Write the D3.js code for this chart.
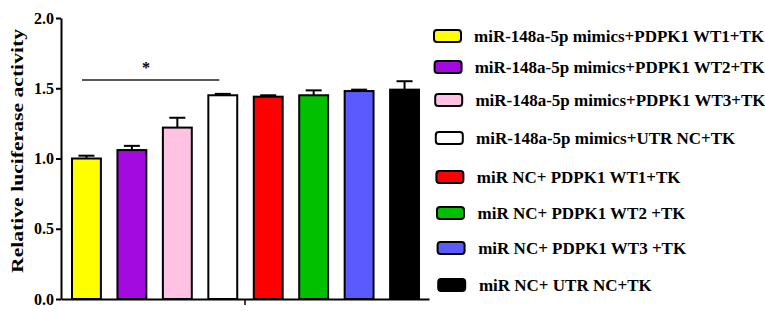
<!DOCTYPE html>
<html>
<head>
<meta charset="utf-8">
<script src="https://cdn.jsdelivr.net/npm/d3@7"></script>
<style>
  body { margin: 0; background: #fff; }
</style>
</head>
<body>
<svg id="chart" width="765" height="316"></svg>
<script>
// Data
const groups = [
  "miR-148a-5p mimics+PDPK1 WT1+TK",
  "miR-148a-5p mimics+PDPK1 WT2+TK",
  "miR-148a-5p mimics+PDPK1 WT3+TK",
  "miR-148a-5p mimics+UTR NC+TK",
  "miR NC+ PDPK1 WT1+TK",
  "miR NC+ PDPK1 WT2 +TK",
  "miR NC+ PDPK1 WT3 +TK",
  "miR NC+ UTR NC+TK"
];
const means = [1.00, 1.06, 1.22, 1.45, 1.44, 1.45, 1.48, 1.49];
const errors = [0.02, 0.03, 0.07, 0.01, 0.01, 0.035, 0.01, 0.06];
const colors = ["#ffff00", "#a20ae0", "#ffc2e2", "#ffffff", "#ff0000", "#00c000", "#5a5aff", "#000000"];
const yTicks = [0, 0.5, 1.0, 1.5, 2.0];

const FONT = "'Times New Roman', 'Liberation Serif', 'DejaVu Serif', serif";

const svg = d3.select("#chart");

// Scales
const y = d3.scaleLinear().domain([0, 2]).range([299, 18]);
const x = d3.scaleBand().domain(groups).range([71, 420]).paddingInner(0.32).paddingOuter(0);

// Y axis
const yAxis = svg.append("g")
  .attr("transform", "translate(61,0)")
  .call(d3.axisLeft(y).tickValues(yTicks).tickFormat(d3.format(".1f")).tickSize(5).tickSizeOuter(0));
yAxis.attr("font-family", null);
yAxis.select(".domain").attr("stroke", "#000").attr("stroke-width", 2);
yAxis.selectAll(".tick line").attr("stroke-width", 2);
yAxis.selectAll(".tick text")
  .attr("x", -7)
  .style("font-family", FONT)
  .style("font-weight", "bold")
  .style("font-size", "16px")
  .attr("fill", "#000");

// X axis (single group tick)
const xOuter = d3.scaleBand().domain([""]).range([61, 429]);
const xAxis = svg.append("g")
  .attr("transform", "translate(0,299)")
  .call(d3.axisBottom(xOuter).tickSize(6).tickSizeOuter(0));
xAxis.select(".domain").attr("stroke", "#000").attr("stroke-width", 2);
xAxis.selectAll(".tick line").attr("stroke-width", 1.5);

// Y label
svg.append("text")
  .attr("transform", "translate(23,151) rotate(-90)")
  .attr("text-anchor", "middle")
  .attr("textLength", 244)
  .attr("lengthAdjust", "spacingAndGlyphs")
  .style("font-family", FONT)
  .style("font-weight", "bold")
  .style("font-size", "17px")
  .text("Relative luciferase activity");

// Error bars (upper only)
const eb = svg.append("g");
groups.forEach((g, i) => {
  const cx = x(g) + x.bandwidth() / 2;
  eb.append("line")
    .attr("x1", cx).attr("x2", cx)
    .attr("y1", y(means[i])).attr("y2", y(means[i] + errors[i]))
    .attr("stroke", "#000").attr("stroke-width", 2);
  eb.append("line")
    .attr("x1", cx - 8).attr("x2", cx + 8)
    .attr("y1", y(means[i] + errors[i])).attr("y2", y(means[i] + errors[i]))
    .attr("stroke", "#000").attr("stroke-width", 2);
});

// Bars
svg.selectAll("rect.bar")
  .data(groups)
  .enter().append("rect")
    .attr("class", "bar")
    .attr("x", d => x(d) + 1)
    .attr("y", (d, i) => y(means[i]))
    .attr("width", x.bandwidth() - 2)
    .attr("height", (d, i) => y(0) - y(means[i]))
    .attr("fill", (d, i) => colors[i])
    .attr("stroke", "#000")
    .attr("stroke-width", 2);

// Significance line + star
svg.append("line")
  .attr("x1", x(groups[0]) + 11).attr("x2", x(groups[3]) + 12)
  .attr("y1", 80).attr("y2", 80)
  .attr("stroke", "#222").attr("stroke-width", 1.5);
svg.append("text")
  .attr("x", 146).attr("y", 73)
  .attr("text-anchor", "middle")
  .style("font-family", FONT)
  .style("font-weight", "bold")
  .style("font-size", "16px")
  .text("*");

// Legend
const legendY = [36, 67, 100, 138, 177, 213, 248, 285];
const legend = svg.append("g");
groups.forEach((g, i) => {
  const row = legend.append("g").attr("transform", `translate(0,${legendY[i]})`);
  row.append("rect")
    .attr("x", 434 + i * 0.6).attr("y", -6)
    .attr("width", 27).attr("height", 12)
    .attr("rx", 3)
    .attr("fill", colors[i])
    .attr("stroke", "#000").attr("stroke-width", 2);
  row.append("text")
    .attr("x", 474 + i * 0.7)
    .attr("dy", "0.35em")
    .style("font-family", FONT)
    .style("font-weight", "bold")
    .style("font-size", "17px")
    .text(g);
});
</script>
</body>
</html>
